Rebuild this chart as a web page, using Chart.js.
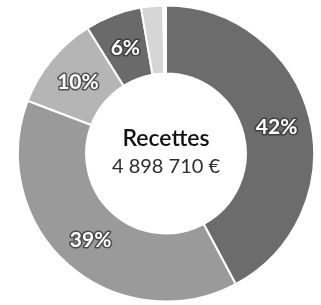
<!DOCTYPE html>
<html>
<head>
<meta charset="utf-8">
<script src="https://cdn.jsdelivr.net/npm/chart.js@4"></script>
<style>
  html, body { margin: 0; padding: 0; background: #fff; }
  #wrap { width: 321px; height: 305px; position: relative; }
</style>
</head>
<body>
<div id="wrap"><canvas id="chart"></canvas></div>
<script>
// données
const categories = ['Poste A', 'Poste B', 'Poste C', 'Poste D', 'Poste E', 'Autre'];
const values = [42.2, 38.6, 10.3, 6.2, 2.4, 0.3];
const sliceColors = ['#6c6c6c', '#9a9a9a', '#b5b5b5', '#6a6a6a', '#d6d6d6', '#ffffff'];
const centerTitle = 'Recettes';
const centerAmount = '4 898 710 €';

const total = values.reduce((a, b) => a + b, 0);

// étiquettes en pourcentage sur les parts
const sliceLabels = {
    id: 'sliceLabels',
    afterDatasetsDraw(chart) {
        const ctx = chart.ctx;
        const meta = chart.getDatasetMeta(0);
        ctx.save();
        ctx.font = 'bold 21px Lato';
        ctx.textAlign = 'center';
        ctx.textBaseline = 'middle';
        meta.data.forEach((arc, i) => {
            const pct = values[i] / total * 100;
            if (pct < 5) return;
            const pos = arc.tooltipPosition();
            const txt = Math.round(pct) + '%';
            ctx.lineWidth = 3;
            ctx.strokeStyle = 'rgba(50,50,50,0.75)';
            ctx.lineJoin = 'round';
            ctx.strokeText(txt, pos.x, pos.y + 1);
            ctx.fillStyle = '#ffffff';
            ctx.fillText(txt, pos.x, pos.y + 1);
        });
        ctx.restore();
    }
};

// texte au centre
const centerText = {
    id: 'centerText',
    afterDraw(chart) {
        const ctx = chart.ctx;
        const arc = chart.getDatasetMeta(0).data[0];
        const x = arc.x, y = arc.y;
        ctx.save();
        ctx.textAlign = 'center';
        ctx.textBaseline = 'alphabetic';
        ctx.fillStyle = '#111111';
        ctx.font = '600 23px Lato';
        ctx.fillText(centerTitle, x, y - 8);
        ctx.fillStyle = '#2e2e2e';
        ctx.font = '400 20px Lato';
        ctx.fillText(centerAmount, x, y + 19);
        ctx.restore();
    }
};

new Chart(document.getElementById('chart'), {
    type: 'doughnut',
    data: {
        labels: categories,
        datasets: [{
            data: values,
            backgroundColor: sliceColors,
            borderColor: '#ffffff',
            borderWidth: 2
        }]
    },
    options: {
        responsive: true,
        maintainAspectRatio: false,
        animation: false,
        cutout: '54%',
        layout: { padding: { left: 17, right: 6, top: 4, bottom: 2 } },
        plugins: {
            legend: { display: false },
            tooltip: { enabled: false }
        }
    },
    plugins: [sliceLabels, centerText]
});
</script>
</body>
</html>
